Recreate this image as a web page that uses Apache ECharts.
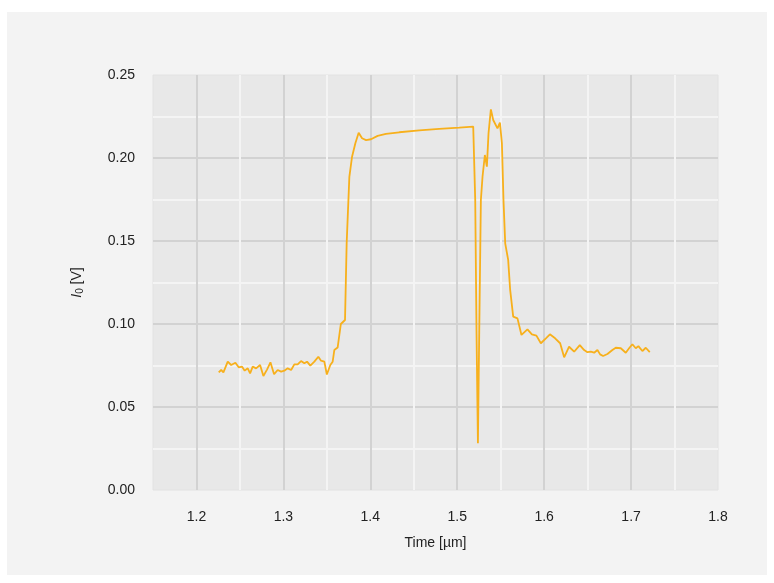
<!DOCTYPE html>
<html>
<head>
<meta charset="utf-8">
<script src="https://cdn.jsdelivr.net/npm/echarts@6/dist/echarts.min.js"></script>
<style>
  html, body { margin: 0; padding: 0; background: #ffffff; }
  #chart { position: absolute; left: 7px; top: 12px; width: 760px; height: 563px; background: #f3f3f3; }
</style>
</head>
<body>
<div id="chart"></div>
<script>
  // time [µm]
  const timeVals = [
    1.2256, 1.2284, 1.2310, 1.2360, 1.2399, 1.2448, 1.2486, 1.2525, 1.2555, 1.2590,
    1.2617, 1.2647, 1.2686, 1.2732, 1.2770, 1.2813, 1.2851, 1.2893, 1.2934, 1.2974,
    1.3011, 1.3049, 1.3089, 1.3126, 1.3164, 1.3203, 1.3241, 1.3272, 1.3310, 1.3356,
    1.3402, 1.3433, 1.3471, 1.3500, 1.3540, 1.3567, 1.3586, 1.3624, 1.3661, 1.3709,
    1.3728, 1.3759, 1.3790, 1.3828, 1.3866, 1.3905, 1.3951, 1.4008, 1.4084, 1.4180,
    1.4333, 1.4563, 1.4793, 1.5023, 1.5184, 1.5207, 1.5222, 1.5238, 1.5253, 1.5272,
    1.5291, 1.5318, 1.5341, 1.5360, 1.5387, 1.5414, 1.5463, 1.5491, 1.5514, 1.5532,
    1.5552, 1.5586, 1.5609, 1.5644, 1.5693, 1.5739, 1.5808, 1.5859, 1.5911, 1.5962,
    1.6020, 1.6066, 1.6126, 1.6184, 1.6230, 1.6287, 1.6345, 1.6410, 1.6460, 1.6498,
    1.6537, 1.6575, 1.6613, 1.6644, 1.6678, 1.6728, 1.6785, 1.6824, 1.6882, 1.6939,
    1.6977, 1.7015, 1.7054, 1.7084, 1.7130, 1.7169, 1.7215
  ];
  // I0 [V]
  const i0Vals = [
    0.0709, 0.0723, 0.0709, 0.0773, 0.0753, 0.0767, 0.0739, 0.0743, 0.0719, 0.0733,
    0.0703, 0.0743, 0.0733, 0.0753, 0.0687, 0.0727, 0.0769, 0.0697, 0.0723, 0.0713,
    0.0719, 0.0733, 0.0723, 0.0757, 0.0757, 0.0777, 0.0763, 0.0773, 0.0749, 0.0773,
    0.0803, 0.0779, 0.0773, 0.0696, 0.0753, 0.0773, 0.0843, 0.0858, 0.1000, 0.1024,
    0.1486, 0.1887, 0.2008, 0.2089, 0.2152, 0.2119, 0.2108, 0.2113, 0.2133, 0.2145,
    0.2155, 0.2166, 0.2175, 0.2183, 0.2189, 0.1747, 0.0946, 0.0281, 0.0946, 0.1747,
    0.1887, 0.2018, 0.1948, 0.2149, 0.2293, 0.2229, 0.2179, 0.2213, 0.2089, 0.1747,
    0.1486, 0.1386, 0.1205, 0.1044, 0.1034, 0.0934, 0.0968, 0.0938, 0.0930, 0.0884,
    0.0914, 0.0938, 0.0914, 0.0884, 0.0799, 0.0863, 0.0833, 0.0873, 0.0843, 0.0830,
    0.0833, 0.0827, 0.0843, 0.0817, 0.0807, 0.0819, 0.0843, 0.0857, 0.0854, 0.0827,
    0.0854, 0.0878, 0.0854, 0.0867, 0.0837, 0.0857, 0.0830
  ];

  const points = timeVals.map((t, i) => [t, i0Vals[i]]);

  const chart = echarts.init(document.getElementById('chart'));
  const fontFamily = 'Liberation Sans, Arial, sans-serif';
  const majorColor = '#d2d2d2';
  const minorColor = '#f4f4f4';

  const option = {
    animation: false,
    grid: {
      left: 146,
      top: 63,
      right: 49,
      bottom: 85,
      show: true,
      backgroundColor: '#e8e8e8',
      borderColor: '#e2e2e2',
      borderWidth: 1
    },
    xAxis: {
      type: 'value',
      min: 1.15,
      max: 1.8,
      interval: 0.05,
      name: 'Time [µm]',
      nameLocation: 'middle',
      nameGap: 46,
      nameTextStyle: { color: '#222222', fontSize: 14, fontFamily: fontFamily },
      axisLine: { show: false },
      axisTick: { show: false },
      axisLabel: {
        color: '#222222',
        fontSize: 14,
        fontFamily: fontFamily,
        margin: 20,
        formatter: function (v) {
          const k = Math.round(v * 100);
          return (k % 10 === 0) ? (k / 100).toFixed(1) : '';
        }
      },
      splitLine: {
        show: true,
        showMinLine: false,
        showMaxLine: false,
        lineStyle: { color: [majorColor, minorColor], width: 2 }
      }
    },
    yAxis: {
      type: 'value',
      min: 0,
      max: 0.25,
      interval: 0.025,
      name: '{it|I}{sub|0} [V]',
      nameLocation: 'middle',
      nameGap: 68,
      nameTextStyle: {
        color: '#222222',
        fontSize: 14,
        fontFamily: fontFamily,
        rich: {
          it: { fontStyle: 'italic', fontSize: 14, fontFamily: fontFamily, color: '#222222' },
          sub: { fontSize: 10, fontFamily: fontFamily, color: '#222222', verticalAlign: 'bottom', padding: [6, 0, 0, 0] }
        }
      },
      axisLine: { show: false },
      axisTick: { show: false },
      axisLabel: {
        color: '#222222',
        fontSize: 14,
        fontFamily: fontFamily,
        margin: 18,
        formatter: function (v) {
          const k = Math.round(v * 1000);
          return (k % 50 === 0) ? (k / 1000).toFixed(2) : '';
        }
      },
      splitLine: {
        show: true,
        showMinLine: false,
        showMaxLine: false,
        lineStyle: { color: [minorColor, majorColor], width: 2 }
      }
    },
    series: [{
      type: 'line',
      data: points,
      showSymbol: false,
      smooth: false,
      lineStyle: { color: '#f7b01c', width: 1.8 },
      itemStyle: { color: '#f7b01c' }
    }]
  };

  chart.setOption(option);
</script>
</body>
</html>
